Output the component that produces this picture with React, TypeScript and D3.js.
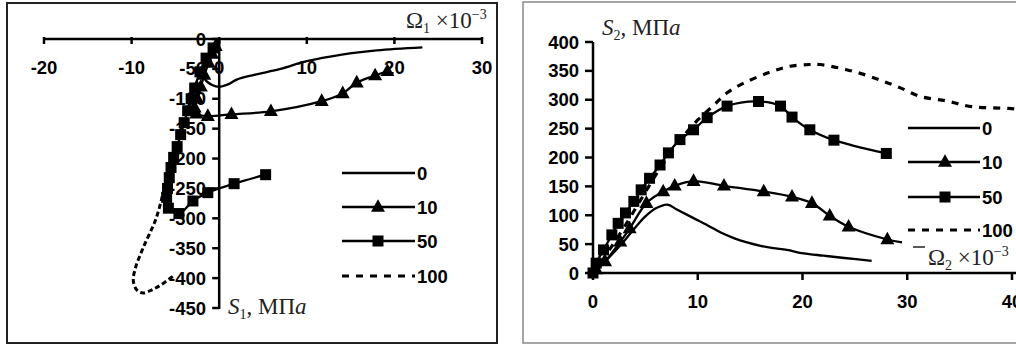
import React from "react";
import * as d3 from "d3";

// ---------- Left panel data (Ω1 ×10^-3 vs S1, MPa) ----------
const L0_x = [0, -1.0, -1.8, -1.6, -0.8, 0, 1, 2, 4, 7, 10, 14, 18, 23.2];
const L0_y = [0, -25, -50, -68, -77, -80, -76, -68, -60, -50, -37, -26, -19, -14];

const L10_x = [0, -0.4, -0.8, -1.2, -1.7, -2.1, -2.5, -2.8, -2.6, -1.3, 1.4, 5.9, 11.7, 14.1, 15.7, 17.8, 19.2];
const L10_y = [0, -12, -25, -40, -60, -80, -100, -115, -125, -129, -126, -121, -104, -91, -73, -61, -54];

const L50_x = [0, -0.7, -1.5, -2.2, -2.8, -3.2, -3.6, -4.0, -4.4, -4.8, -5.2, -5.5, -5.7, -5.9, -6.0, -5.8, -4.6, -3.0, -1.3, 1.7, 5.3];
const L50_y = [0, -15, -32, -55, -82, -100, -120, -140, -160, -180, -198, -215, -232, -250, -265, -283, -292, -271, -257, -242, -227];

const L100_x = [0, -1.7, -3.2, -4.5, -5.6, -6.2, -7.2, -8.7, -9.6, -9.8, -9.4, -8.7, -7.6, -6.6, -5.3];
const L100_y = [0, -40, -100, -160, -215, -246, -300, -350, -385, -405, -420, -425, -419, -411, -397];

const L_xTicks = [-20, -10, 0, 10, 20, 30];
const L_yTicks = [0, -50, -100, -150, -200, -250, -300, -350, -400, -450];

// ---------- Right panel data (Ω2 ×10^-3 vs S2, MPa) ----------
const R0_x = [0, 1, 2, 3, 4, 5, 6, 7.1, 8, 9.6, 11, 12.2, 13.5, 14.7, 16, 17.2, 18.5, 20.1, 22, 24, 26.6];
const R0_y = [0, 17, 36, 56, 78, 98, 112, 118.5, 110, 95, 82, 70, 60, 53, 47, 43, 40, 34, 30, 26, 21];

const R10_x = [0, 0.3, 1.15, 2.6, 3.5, 5.1, 6.7, 7.8, 9.6, 12.5, 16.3, 19, 20.9, 22.6, 24.4, 28.1, 29.5];
const R10_y = [0, 6, 20, 54, 77, 121, 141, 151, 159, 151, 141, 132, 121, 99, 80, 58, 53];

const R50_x = [0, 0.3, 1, 1.8, 2.4, 3.1, 3.9, 4.6, 5.4, 6.4, 7.2, 8.3, 9.6, 10.9, 12.8, 15.8, 17.9, 19, 20.7, 23, 28];
const R50_y = [0, 17, 40, 66, 86, 104, 124, 144, 164, 187, 208, 231, 248, 269, 289, 297, 289, 270, 248, 230, 207];

const R100_x = [0, 1, 2, 3, 4, 5, 6, 7, 8, 9, 10, 11.5, 12.8, 14.4, 16.8, 18.8, 20.7, 21.7, 24.2, 26, 27.7, 29.3, 31.2, 33.7, 36.2, 39.7, 40.3];
const R100_y = [0, 25, 52, 80, 110, 140, 170, 198, 222, 245, 265, 290, 312, 329, 347, 358, 361, 361, 352, 343, 332, 321, 306, 298, 288, 285, 284];

const R_xTicks = [0, 10, 20, 30, 40];
const R_yTicks = [0, 50, 100, 150, 200, 250, 300, 350, 400];

const legendLabels = ["0", "10", "50", "100"];

const zip = (xs: number[], ys: number[]) => xs.map((x, i) => [x, ys[i]] as [number, number]);

const tickFont = "'Liberation Sans', Arial, sans-serif";
const serif = "'Liberation Serif', 'Times New Roman', serif";

function Triangle({ x, y, s = 14 }: { x: number; y: number; s?: number }) {
  const h = s * 0.9;
  return <path d={`M${x},${y - h * 0.62}L${x + s / 2},${y + h * 0.38}L${x - s / 2},${y + h * 0.38}Z`} fill="#000" />;
}
function Square({ x, y, s = 11 }: { x: number; y: number; s?: number }) {
  return <rect x={x - s / 2} y={y - s / 2} width={s} height={s} fill="#000" />;
}

export default function App() {
  const xL = d3.scaleLinear().domain([-20, 30]).range([44, 482]);
  const yL = d3.scaleLinear().domain([0, -450]).range([39, 308]);
  const xR = d3.scaleLinear().domain([0, 40]).range([593, 1012]);
  const yR = d3.scaleLinear().domain([0, 400]).range([273, 42]);

  const lineL = d3.line<[number, number]>().x(d => xL(d[0])).y(d => yL(d[1])).curve(d3.curveCatmullRom.alpha(0.5));
  const lineR = d3.line<[number, number]>().x(d => xR(d[0])).y(d => yR(d[1])).curve(d3.curveCatmullRom.alpha(0.5));

  const L0 = zip(L0_x, L0_y), L10 = zip(L10_x, L10_y), L50 = zip(L50_x, L50_y), L100 = zip(L100_x, L100_y);
  const R0 = zip(R0_x, R0_y), R10 = zip(R10_x, R10_y), R50 = zip(R50_x, R50_y), R100 = zip(R100_x, R100_y);

  const lw = 2.3;
  const dash = "7,7";
  const tf = 23;

  const legend = (x0: number, x1: number, ys: number[], mx: number) => (
    <g>
      {legendLabels.map((lab, i) => (
        <g key={lab}>
          <line x1={x0} x2={x1} y1={ys[i]} y2={ys[i]} stroke="#000" strokeWidth={i === 3 ? 3.2 : lw} strokeDasharray={i === 3 ? dash : undefined} />
          {i === 1 && <Triangle x={mx} y={ys[i]} />}
          {i === 2 && <Square x={mx} y={ys[i]} />}
          <text x={x1 + 2} y={ys[i] + 6.5} fontFamily={tickFont} fontWeight="bold" fontSize={18.5}>{lab}</text>
        </g>
      ))}
    </g>
  );

  return (
    <svg width={1016} height={349} style={{ position: "absolute", left: 0, top: 0, background: "#fff" }}>
      <rect x={0} y={0} width={1016} height={349} fill="#fff" />
      <rect x={7} y={3} width={490} height={340} fill="none" stroke="#222" strokeWidth={2} />
      <rect x={523} y={2} width={520} height={341} fill="none" stroke="#888" strokeWidth={1.5} />

      {/* ---------- LEFT PANEL ---------- */}
      <g>
        <line x1={xL(-20)} x2={xL(30)} y1={yL(0)} y2={yL(0)} stroke="#000" strokeWidth={2.5} />
        {L_xTicks.map(t => (
          <g key={"lx" + t}>
            <line x1={xL(t)} x2={xL(t)} y1={yL(0) - 2} y2={yL(0) + 5} stroke="#000" strokeWidth={2.5} />
            <text x={xL(t)} y={74} textAnchor="middle" fontFamily={tickFont} fontWeight="bold" fontSize={18.5}>{t}</text>
          </g>
        ))}
        <line x1={xL(0)} x2={xL(0)} y1={yL(0)} y2={yL(-450) + 1} stroke="#000" strokeWidth={2.5} />
        {L_yTicks.map(t => (
          <g key={"ly" + t}>
            <line x1={xL(0) - 7} x2={xL(0)} y1={yL(t)} y2={yL(t)} stroke="#000" strokeWidth={2.5} />
            <text x={206} y={yL(t) + 6.5} textAnchor="end" fontFamily={tickFont} fontWeight="bold" fontSize={18.5}>{t}</text>
          </g>
        ))}
        <path d={lineL(L100) || ""} fill="none" stroke="#000" strokeWidth={3} strokeDasharray="5,3" />
        <path d={lineL(L0) || ""} fill="none" stroke="#000" strokeWidth={lw} />
        <path d={lineL(L10) || ""} fill="none" stroke="#000" strokeWidth={lw} />
        <path d={lineL(L50) || ""} fill="none" stroke="#000" strokeWidth={lw} />
        {L10.slice(1).map((d, i) => <Triangle key={"lt" + i} x={xL(d[0])} y={yL(d[1])} />)}
        {L50.slice(1).map((d, i) => <Square key={"ls" + i} x={xL(d[0])} y={yL(d[1])} />)}
        <text x={406} y={28} fontFamily={serif} fontSize={tf} fill="#222">
          Ω<tspan fontSize={14} dy={5}>1</tspan><tspan dy={-5}> ×10</tspan><tspan fontSize={14} dy={-9}>−3</tspan>
        </text>
        <text x={228} y={314} fontFamily={serif} fontSize={tf} fill="#222">
          <tspan fontStyle="italic">S</tspan><tspan fontSize={14} dy={5}>1</tspan><tspan dy={-5}>, МП</tspan><tspan fontStyle="italic">a</tspan>
        </text>
        {legend(342, 415, [173, 207, 241, 276], 378)}
      </g>

      {/* ---------- RIGHT PANEL ---------- */}
      <g>
        <line x1={xR(0)} x2={xR(40) + 4} y1={yR(0)} y2={yR(0)} stroke="#000" strokeWidth={2.5} />
        {R_xTicks.map(t => (
          <g key={"rx" + t}>
            <line x1={xR(t)} x2={xR(t)} y1={yR(0)} y2={yR(0) + 7} stroke="#000" strokeWidth={2.5} />
            <text x={xR(t)} y={308} textAnchor="middle" fontFamily={tickFont} fontWeight="bold" fontSize={18.5}>{t}</text>
          </g>
        ))}
        <line x1={xR(0)} x2={xR(0)} y1={yR(0) + 1} y2={yR(400)} stroke="#000" strokeWidth={2.5} />
        {R_yTicks.map(t => (
          <g key={"ry" + t}>
            <line x1={xR(0) - 8} x2={xR(0)} y1={yR(t)} y2={yR(t)} stroke="#000" strokeWidth={2.5} />
            <text x={579} y={yR(t) + 6.5} textAnchor="end" fontFamily={tickFont} fontWeight="bold" fontSize={18.5}>{t}</text>
          </g>
        ))}
        <path d={lineR(R100) || ""} fill="none" stroke="#000" strokeWidth={3.2} strokeDasharray={dash} />
        <path d={lineR(R0) || ""} fill="none" stroke="#000" strokeWidth={lw} />
        <path d={lineR(R10) || ""} fill="none" stroke="#000" strokeWidth={lw} />
        <path d={lineR(R50) || ""} fill="none" stroke="#000" strokeWidth={lw} />
        {R10.slice(1, -1).map((d, i) => <Triangle key={"rt" + i} x={xR(d[0])} y={yR(d[1])} />)}
        {R50.map((d, i) => <Square key={"rs" + i} x={xR(d[0])} y={yR(d[1])} />)}
        <text x={602} y={35} fontFamily={serif} fontSize={tf} fill="#222">
          <tspan fontStyle="italic">S</tspan><tspan fontSize={14} dy={5}>2</tspan><tspan dy={-5}>, МП</tspan><tspan fontStyle="italic">a</tspan>
        </text>
        <line x1={913} x2={925} y1={247} y2={247} stroke="#222" strokeWidth={1.5} />
        <text x={928} y={265} fontFamily={serif} fontSize={tf} fill="#222">
          Ω<tspan fontSize={14} dy={5}>2</tspan><tspan dy={-5}> ×10</tspan><tspan fontSize={14} dy={-9}>−3</tspan>
        </text>
        {legend(908, 980, [128, 162, 197, 230], 945)}
      </g>
    </svg>
  );
}
